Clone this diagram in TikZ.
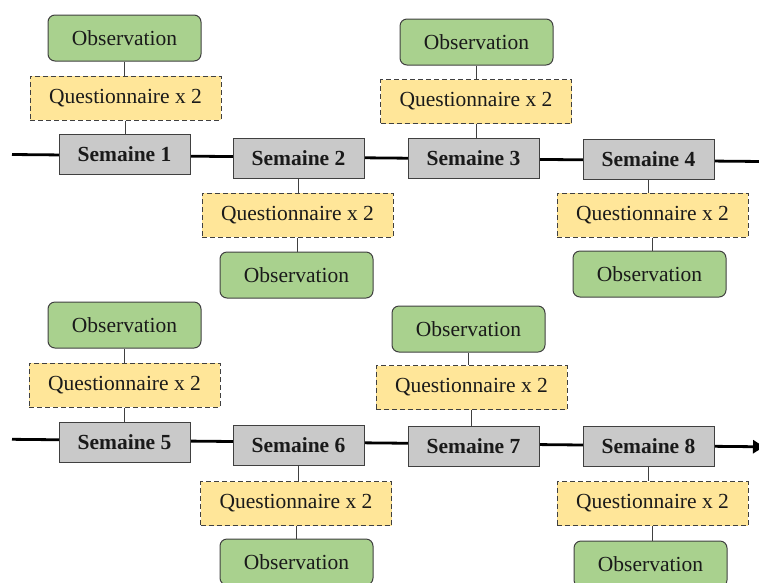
\documentclass[tikz,border=0pt]{standalone}
\usepackage{fontspec}
\setmainfont{Liberation Serif}
\usetikzlibrary{arrows.meta}
\definecolor{obsgreen}{HTML}{A9D18E}
\definecolor{questyellow}{HTML}{FFE699}
\definecolor{weekgray}{HTML}{C9C9C9}
\definecolor{bordergray}{HTML}{404040}
\definecolor{txt}{HTML}{1A1A1A}
\tikzset{
  base/.style={draw=bordergray, line width=1pt, inner sep=0pt, text=txt,
    font=\fontsize{21.5}{24}\selectfont},
  obsbox/.style={base, rounded corners=7pt, fill=obsgreen, minimum width=153pt, minimum height=46pt},
  questbox/.style={base, dash pattern=on 5pt off 3pt, fill=questyellow, minimum width=191pt, minimum height=44pt},
  weekbox/.style={base, fill=weekgray, minimum width=131pt, minimum height=40pt,
    font=\fontsize{21.5}{24}\selectfont\bfseries},
  link/.style={draw=bordergray, line width=1pt},
  timeline/.style={draw=black, line width=2.8pt}
}
\begin{document}
\begin{tikzpicture}[x=1pt,y=-1pt]
\useasboundingbox (0,0) rectangle (759,582);
\clip (0,0) rectangle (759,582);
% timelines
\coordinate (ta) at (12,154.5);
\coordinate (tb) at (762,161.5);
\coordinate (ba) at (12,439.3);
\coordinate (bb) at (764,446.8);
\draw[timeline] (ta) -- (tb);
\draw[timeline, -{Triangle[length=11pt,width=13pt]}] (ba) -- (bb);
% row 1
\node[obsbox] (O1) at (124.5,38) {Observation};
\node[questbox] (Q1) at (125.5,98) {Questionnaire x 2};
\node[weekbox] (S1) at (124.5,154) {Semaine 1};
\node[weekbox] (S2) at (298.5,158) {Semaine 2};
\node[questbox] (Q2) at (297.5,215) {Questionnaire x 2};
\node[obsbox] (O2) at (296.5,275) {Observation};
\node[obsbox] (O3) at (476.5,42) {Observation};
\node[questbox] (Q3) at (476,101.5) {Questionnaire x 2};
\node[weekbox] (S3) at (473.5,158) {Semaine 3};
\node[weekbox] (S4) at (648.5,159) {Semaine 4};
\node[questbox] (Q4) at (652.5,215) {Questionnaire x 2};
\node[obsbox] (O4) at (649.5,274) {Observation};
% row 2
\node[obsbox] (O5) at (124.5,325) {Observation};
\node[questbox] (Q5) at (124.5,385) {Questionnaire x 2};
\node[weekbox] (S5) at (124.5,442.5) {Semaine 5};
\node[weekbox] (S6) at (298.5,445) {Semaine 6};
\node[questbox] (Q6) at (296,503.5) {Questionnaire x 2};
\node[obsbox] (O6) at (296.5,562) {Observation};
\node[obsbox] (O7) at (468.5,329) {Observation};
\node[questbox] (Q7) at (471.5,387.5) {Questionnaire x 2};
\node[weekbox] (S7) at (473.5,446) {Semaine 7};
\node[weekbox] (S8) at (648.5,446) {Semaine 8};
\node[questbox] (Q8) at (652.5,503.5) {Questionnaire x 2};
\node[obsbox] (O8) at (650.5,564) {Observation};
% links (vertical)
\foreach \o/\q/\s in {O1/Q1/S1,O3/Q3/S3,O5/Q5/S5,O7/Q7/S7}{
  \draw[link] (\o.south) -- (\o.south |- \q.north);
  \draw[link] (\q.south) -- (\q.south |- \s.north);
}
\foreach \o/\q/\s in {O2/Q2/S2,O4/Q4/S4,O6/Q6/S6,O8/Q8/S8}{
  \draw[link] (\s.south) -- (\s.south |- \q.north);
  \draw[link] (\q.south) -- (\q.south |- \o.north);
}
\end{tikzpicture}
\end{document}
